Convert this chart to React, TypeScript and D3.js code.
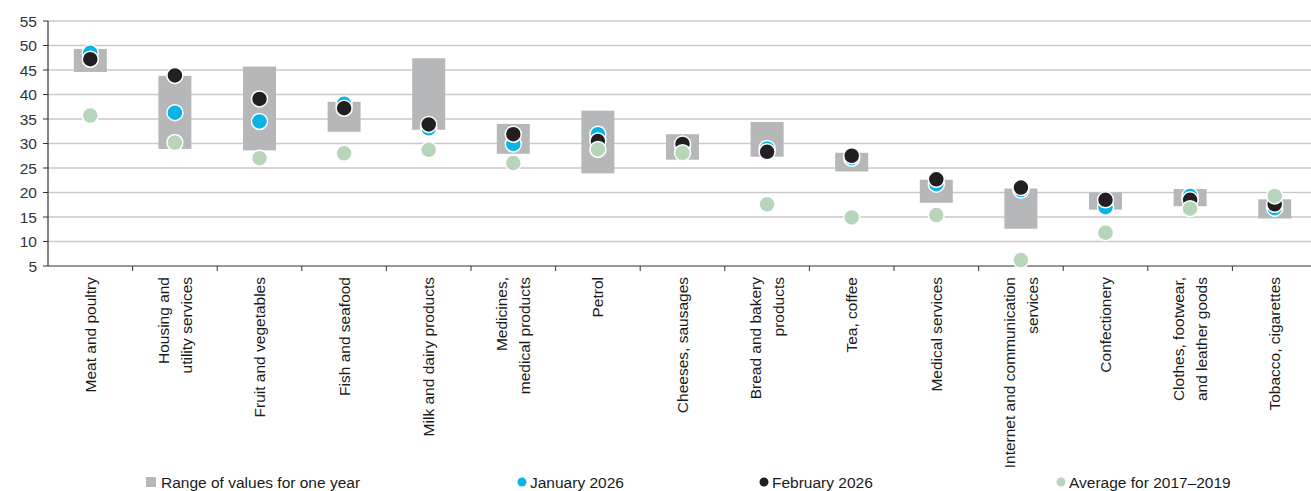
import React from 'react'
import * as d3 from 'd3'

const categories = [
  ['Meat and poultry'],
  ['Housing and', 'utility services'],
  ['Fruit and vegetables'],
  ['Fish and seafood'],
  ['Milk and dairy products'],
  ['Medicines,', 'medical products'],
  ['Petrol'],
  ['Cheeses, sausages'],
  ['Bread and bakery', 'products'],
  ['Tea, coffee'],
  ['Medical services'],
  ['Internet and communication', 'services'],
  ['Confectionery'],
  ['Clothes, footwear,', 'and leather goods'],
  ['Tobacco, cigarettes'],
]
const rangeHigh = [49.3, 43.8, 45.7, 38.5, 47.4, 34.0, 36.7, 31.9, 34.4, 28.1, 22.6, 20.8, 20.0, 20.7, 18.6]
const rangeLow = [44.6, 28.9, 28.6, 32.4, 32.8, 27.9, 23.9, 26.7, 27.3, 24.3, 17.9, 12.6, 16.5, 17.2, 14.7]
const jan2026 = [48.5, 36.3, 34.5, 38.1, 33.1, 29.9, 31.9, 29.5, 29.0, 27.0, 21.7, 20.5, 17.0, 19.3, 16.8]
const feb2026 = [47.2, 43.9, 39.1, 37.2, 33.9, 31.9, 30.5, 29.9, 28.3, 27.5, 22.7, 21.0, 18.5, 18.5, 17.6]
const avg1719 = [35.7, 30.2, 27.0, 28.0, 28.7, 26.0, 28.8, 28.1, 17.6, 14.9, 15.4, 6.2, 11.8, 16.7, 19.3]
const yTicks = [5, 10, 15, 20, 25, 30, 35, 40, 45, 50, 55]

const W = 1311
const H = 491
const FONT = '"Liberation Sans", Arial, sans-serif'
const FS = 15.5
const GREY = '#b6b7b9'
const BLUE = '#0bb4e6'
const BLACK = '#231f20'
const GREEN = '#b7d5b9'

export default function App() {
  const x = d3.scaleBand<number>()
    .domain(d3.range(categories.length))
    .range([48, 48 + categories.length * 84.6])
  const y = d3.scaleLinear().domain([5, 55]).range([266, 21])
  const boxW = 33
  const r = 8

  const series = [
    { values: jan2026, color: BLUE },
    { values: feb2026, color: BLACK },
    { values: avg1719, color: GREEN },
  ]

  const legend = [
    { x: 146, kind: 'rect', color: GREY, label: 'Range of values for one year' },
    { x: 522, kind: 'dot', color: BLUE, label: 'January 2026' },
    { x: 764, kind: 'dot', color: BLACK, label: 'February 2026' },
    { x: 1061, kind: 'dot', color: GREEN, label: 'Average for 2017–2019' },
  ]

  return (
    <svg width={W} height={H} style={{ position: 'absolute', left: 0, top: 0 }} fontFamily={FONT}>
      <rect width={W} height={H} fill="#fff" />
      {/* grid + y axis */}
      {yTicks.map(t => (
        <g key={t}>
          {t > 5 && <line x1={48} x2={W} y1={y(t)} y2={y(t)} stroke="#c9c9c9" strokeWidth={1.5} />}
          <line x1={43} x2={48} y1={y(t)} y2={y(t)} stroke="#333" strokeWidth={1} />
          <text x={37} y={y(t)} dy="0.36em" textAnchor="end" fontSize={FS} fill="#333">{t}</text>
        </g>
      ))}
      <line x1={48} x2={48} y1={y(55)} y2={y(5)} stroke="#333" strokeWidth={1.2} />
      <line x1={48} x2={W} y1={y(5)} y2={y(5)} stroke="#333" strokeWidth={1.2} />
      {categories.map((_, i) => (
        <line key={i} x1={x(i)! + x.bandwidth()} x2={x(i)! + x.bandwidth()} y1={y(5)} y2={y(5) + 5} stroke="#333" />
      ))}

      {/* range boxes */}
      {categories.map((_, i) => (
        <rect key={i}
          x={x(i)! + x.bandwidth() / 2 - boxW / 2}
          y={y(rangeHigh[i])}
          width={boxW}
          height={y(rangeLow[i]) - y(rangeHigh[i])}
          fill={GREY} />
      ))}

      {/* dots */}
      {series.map((s, si) => (
        <g key={si}>
          {s.values.map((v, i) => (
            <circle key={i} cx={x(i)! + x.bandwidth() / 2} cy={y(v)} r={r}
              fill={s.color} stroke="#fff" strokeWidth={1.5} />
          ))}
        </g>
      ))}

      {/* category labels */}
      {categories.map((lines, i) => {
        const cx = x(i)! + x.bandwidth() / 2
        const lh = 23
        return (
          <text key={i} transform={`translate(${cx},277) rotate(-90)`} textAnchor="end" fontSize={FS} fill="#1a1a1a">
            {lines.map((l, j) => (
              <tspan key={j} x={0} y={(j - (lines.length - 1) / 2) * lh} dy="0.36em">{l}</tspan>
            ))}
          </text>
        )
      })}

      {/* legend */}
      {legend.map((d, i) => (
        <g key={i} transform={`translate(${d.x},482)`}>
          {d.kind === 'rect'
            ? <rect x={0} y={-5} width={10} height={10} fill={d.color} />
            : <circle cx={0} cy={0} r={4.5} fill={d.color} />}
          <text x={d.kind === 'rect' ? 15 : 8} y={0} dy="0.36em" fontSize={FS} fill="#1a1a1a">{d.label}</text>
        </g>
      ))}
    </svg>
  )
}
